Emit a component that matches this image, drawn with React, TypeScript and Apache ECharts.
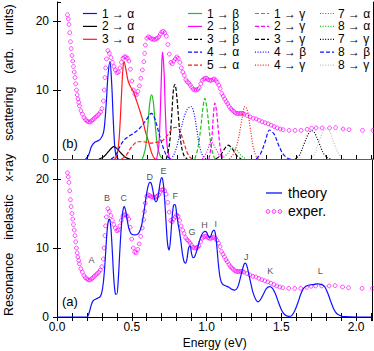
import React, { useEffect, useRef } from "react";
import * as echarts from "echarts";

const FONT = "'Liberation Sans', Arial, Helvetica, sans-serif";

// ---------- data ----------
const expData: number[][] = [
  [0.07,20.9],[0.075,20.3],[0.08,19.5],[0.085,18.3],[0.09,17.0],[0.095,16.0],[0.10,15.0],[0.105,14.2],[0.11,13.4],[0.115,12.6],[0.12,11.8],[0.125,10.9],[0.13,10.0],[0.135,9.3],[0.14,8.7],[0.145,8.2],[0.15,7.7],[0.16,7.0],
  [0.17,6.5],[0.18,6.0],[0.19,5.7],[0.20,5.5],[0.21,5.4],[0.22,5.35],[0.23,5.5],[0.24,5.7],[0.25,5.9],[0.26,6.1],
  [0.27,6.3],[0.28,6.5],[0.29,6.8],[0.30,7.3],[0.31,8.4],[0.315,10.0],[0.32,11.8],[0.325,13.2],[0.33,14.5],[0.34,15.7],[0.35,15.3],[0.36,14.7],
  [0.37,14.0],[0.38,13.4],[0.39,12.9],[0.40,12.5],[0.41,12.6],[0.42,13.2],[0.43,14.0],[0.44,14.6],[0.45,14.8],[0.46,14.8],
  [0.47,14.6],[0.48,14.2],[0.49,13.0],[0.50,11.3],[0.51,10.0],[0.52,9.4],[0.53,9.3],[0.54,9.8],[0.55,10.6],[0.56,11.7],
  [0.57,12.9],[0.58,14.1],[0.585,15.3],[0.59,16.5],[0.60,17.5],[0.61,17.7],[0.62,17.6],[0.63,17.4],[0.64,17.4],[0.65,17.3],[0.66,17.4],
  [0.67,17.5],[0.68,17.7],[0.69,18.1],[0.70,18.4],[0.71,18.5],[0.72,18.3],[0.73,17.8],[0.74,16.6],[0.75,15.2],[0.76,14.0],
  [0.77,13.8],[0.78,14.2],[0.79,14.5],[0.80,14.8],[0.81,14.6],[0.82,14.0],[0.83,13.2],[0.84,12.6],[0.85,12.1],[0.86,11.5],
  [0.87,11.2],[0.88,11.0],[0.89,10.7],[0.90,10.4],[0.91,10.1],[0.92,10.0],[0.93,10.0],[0.94,10.1],[0.95,10.3],[0.96,10.9],
  [0.97,11.4],[0.98,11.6],[0.99,11.7],[1.00,11.7],[1.01,11.5],[1.02,11.4],[1.03,11.4],[1.04,11.5],[1.05,11.6],[1.06,11.4],
  [1.07,11.1],[1.08,10.7],[1.09,10.2],[1.10,9.5],[1.11,9.1],[1.12,8.7],[1.13,8.3],[1.14,8.0],[1.15,7.6],[1.16,7.3],
  [1.17,7.1],[1.18,6.9],[1.19,6.7],[1.20,6.6],[1.21,6.6],[1.22,6.6],[1.23,6.6],[1.24,6.6],[1.25,6.5],
  [1.27,6.3],[1.29,6.1],[1.31,5.9],[1.33,5.8],[1.35,5.6],[1.37,5.4],[1.39,5.25],[1.41,5.1],[1.43,4.9],[1.45,4.7],
  [1.47,4.5],[1.49,4.35],[1.51,4.25],[1.55,4.15],[1.59,4.15],[1.63,4.15],[1.67,4.3],[1.70,4.45],[1.73,4.5],[1.77,4.5],
  [1.82,4.5],[1.86,4.55],[1.91,4.35],[1.95,4.25],[2.04,4.15],[2.11,4.15],
];

const theoryData: number[][] = [
  [0,0],[0.2,0],[0.21,0.3],[0.22,1.0],[0.23,1.8],[0.24,2.3],[0.25,2.5],[0.27,2.7],[0.29,3.0],[0.30,3.6],
  [0.31,5.0],[0.32,7.5],[0.33,11.0],[0.34,13.5],[0.35,14.2],[0.36,13.0],[0.37,9.5],[0.38,5.5],[0.39,3.4],[0.40,3.3],
  [0.41,5.5],[0.42,9.5],[0.43,13.0],[0.44,15.3],[0.45,16.0],[0.46,15.3],[0.47,14.0],[0.48,12.9],[0.49,12.3],[0.50,12.0],
  [0.52,11.9],[0.54,12.0],[0.55,12.3],[0.56,12.8],[0.57,13.7],[0.58,15.0],[0.59,16.5],[0.60,18.0],[0.61,19.0],[0.62,19.5],
  [0.63,19.4],[0.64,18.5],[0.65,17.3],[0.66,16.7],[0.67,16.9],[0.68,18.0],[0.69,19.5],[0.70,20.2],[0.71,19.5],[0.72,17.0],
  [0.73,13.5],[0.74,10.5],[0.75,9.7],[0.76,11.5],[0.77,14.5],[0.78,16.2],[0.79,16.3],[0.80,15.0],[0.81,13.5],[0.82,12.3],
  [0.83,10.7],[0.84,9.0],[0.85,8.0],[0.86,7.8],[0.87,8.5],[0.88,10.0],[0.89,10.3],[0.90,9.2],[0.91,8.6],[0.92,8.7],
  [0.93,9.3],[0.94,10.0],[0.95,10.8],[0.96,11.5],[0.97,12.0],[0.98,12.3],[0.99,12.4],[1.00,12.3],[1.01,11.8],[1.02,11.5],
  [1.03,11.8],[1.04,12.4],[1.05,12.6],[1.06,12.0],[1.07,10.0],[1.08,7.5],[1.09,5.8],[1.10,5.0],[1.11,4.7],[1.13,4.5],
  [1.15,4.3],[1.17,4.0],[1.19,3.9],[1.21,4.4],[1.23,6.0],[1.25,7.6],[1.26,7.8],[1.27,7.4],[1.29,5.5],[1.31,3.6],
  [1.33,2.5],[1.345,2.2],[1.36,2.5],[1.38,3.3],[1.40,4.1],[1.42,4.4],[1.44,4.2],[1.46,3.4],[1.48,2.2],[1.50,1.1],
  [1.52,0.4],[1.55,0.1],[1.57,0.2],[1.59,0.9],[1.61,2.0],[1.63,3.3],[1.65,4.2],[1.68,4.6],[1.71,4.7],[1.74,4.8],
  [1.77,4.7],[1.79,4.4],[1.81,3.5],[1.83,2.3],[1.85,1.2],[1.87,0.5],[1.90,0.15],[1.93,0.05],[2.0,0],[2.11,0],
];

// component transitions (top panel)
const c1a = [[0.19,0],[0.21,0.5],[0.23,1.8],[0.25,2.4],[0.27,2.6],[0.29,2.9],[0.31,3.8],[0.32,5.5],[0.33,8.5],[0.34,12.0],[0.353,14.1],[0.365,11.0],[0.375,6.0],[0.385,2.0],[0.395,0.4],[0.41,0]];
const c2a = [[0.28,0],[0.31,0.3],[0.34,1.0],[0.365,1.6],[0.38,1.8],[0.40,1.5],[0.43,0.8],[0.46,0.2],[0.49,0]];
const c3a = [[0.385,0],[0.40,0.5],[0.415,3.0],[0.43,9.0],[0.44,13.0],[0.448,14.1],[0.46,13.0],[0.475,11.3],[0.49,10.5],[0.51,9.8],[0.53,8.5],[0.55,7.2],[0.575,5.4],[0.59,4.0],[0.61,2.6],[0.63,1.0],[0.65,0.1],[0.67,0]];
const c1b = [[0.57,0],[0.59,1.5],[0.605,4.5],[0.62,8.2],[0.631,9.3],[0.643,8.3],[0.655,5.2],[0.67,2.0],[0.69,0.4],[0.71,0]];
const c2b = [[0.665,0],[0.68,2.0],[0.69,7.0],[0.70,14.0],[0.705,15.5],[0.715,12.5],[0.725,6.0],[0.735,2.0],[0.75,0.2],[0.76,0]];
const c3b = [[0.73,0],[0.75,2.0],[0.765,6.0],[0.778,10.2],[0.787,10.8],[0.80,9.0],[0.815,5.0],[0.83,2.0],[0.85,0.4],[0.87,0]];
const c4a = [[0.36,0],[0.39,0.5],[0.42,1.8],[0.45,2.8],[0.48,3.3],[0.51,3.7],[0.54,4.2],[0.57,4.9],[0.60,5.8],[0.63,6.6],[0.65,6.0],[0.67,4.6],[0.69,3.0],[0.71,1.6],[0.73,0.6],[0.75,0.1],[0.77,0]];
const c5a = [[0.43,0],[0.46,0.5],[0.50,1.8],[0.54,2.5],[0.58,2.5],[0.62,2.3],[0.66,2.4],[0.70,2.6],[0.74,3.5],[0.77,4.4],[0.795,4.6],[0.82,4.1],[0.845,2.5],[0.87,0.9],[0.89,0.2],[0.91,0]];
const c1g = [[0.92,0],[0.94,1.5],[0.96,4.5],[0.975,7.5],[0.987,8.8],[1.00,7.5],[1.015,4.5],[1.03,1.8],[1.05,0.2],[1.06,0]];
const c2g = [[1.015,0],[1.03,2.0],[1.045,6.5],[1.054,8.1],[1.065,7.0],[1.08,3.5],[1.095,1.0],[1.11,0]];
const c3g = [[1.06,0],[1.09,0.5],[1.12,1.5],[1.143,2.0],[1.17,1.5],[1.20,0.5],[1.23,0]];
const c4b = [[0.76,0],[0.78,0.6],[0.80,1.8],[0.82,3.6],[0.845,5.8],[0.87,7.2],[0.895,7.6],[0.915,6.6],[0.935,4.0],[0.955,1.6],[0.975,0.4],[0.995,0]];
const c4g = [[1.15,0],[1.18,0.8],[1.21,2.8],[1.235,5.8],[1.255,7.6],[1.27,7.2],[1.29,4.5],[1.31,1.8],[1.33,0.4],[1.35,0]];
const c7a = [[0.97,0],[1.0,1.0],[1.03,2.5],[1.06,1.5],[1.09,0.3],[1.11,0]];
const c8a = [[1.10,0],[1.14,0.8],[1.17,1.6],[1.20,1.3],[1.23,0.5],[1.26,0]];
const c7g = [[1.59,0],[1.62,0.6],[1.65,2.2],[1.68,3.7],[1.70,4.1],[1.72,3.8],[1.75,2.3],[1.78,0.8],[1.81,0.1],[1.83,0]];
const c8b = [[1.33,0],[1.36,0.8],[1.39,2.5],[1.42,4.2],[1.45,3.6],[1.48,2.0],[1.51,0.7],[1.54,0.1],[1.56,0]];
const c8g = [[1.69,0],[1.72,0.8],[1.75,2.6],[1.78,4.1],[1.80,4.4],[1.82,4.0],[1.85,2.3],[1.88,0.8],[1.91,0.1],[1.93,0]];

const peakLabels: [number, number, string][] = [
  [0.23,8.2,"A"],[0.334,17.2,"B"],[0.446,17.2,"C"],[0.62,20.3,"D"],[0.713,21.1,"E"],[0.791,17.5,"F"],
  [0.903,12.3,"G"],[0.987,13.3,"H"],[1.061,13.5,"I"],[1.266,8.7,"J"],[1.426,6.6,"K"],[1.761,6.6,"L"],
];

const yTicks = [0, 10, 20];

// ---------- styles ----------
const BLUE = "#1010ff", BLACK = "#000000", RED = "#ff1a1a", GREEN = "#1fbf1f", MAG = "#ff00ff", GREY = "#bdbdbd";
const DASH = [4, 2];
const DOT = [1, 1.6];

type Comp = { name: string; data: number[][]; color: string; dash: any };
const comps: Comp[] = [
  { name: "1 → α", data: c1a, color: BLUE, dash: "solid" },
  { name: "2 → α", data: c2a, color: BLACK, dash: "solid" },
  { name: "3 → α", data: c3a, color: RED, dash: "solid" },
  { name: "1 → β", data: c1b, color: GREEN, dash: "solid" },
  { name: "2 → β", data: c2b, color: MAG, dash: "solid" },
  { name: "3 → β", data: c3b, color: BLACK, dash: DASH },
  { name: "4 → α", data: c4a, color: BLUE, dash: DASH },
  { name: "5 → α", data: c5a, color: RED, dash: DASH },
  { name: "1 → γ", data: c1g, color: GREEN, dash: DASH },
  { name: "2 → γ", data: c2g, color: MAG, dash: DASH },
  { name: "3 → γ", data: c3g, color: BLACK, dash: DASH },
  { name: "4 → β", data: c4b, color: BLUE, dash: DOT },
  { name: "4 → γ", data: c4g, color: RED, dash: DOT },
  { name: "7 → α", data: c7a, color: MAG, dash: DOT },
  { name: "8 → α", data: c8a, color: GREEN, dash: DOT },
  { name: "7 → γ", data: c7g, color: BLACK, dash: DOT },
  { name: "8 → β", data: c8b, color: BLUE, dash: DASH },
  { name: "8 → γ", data: c8g, color: GREY, dash: DOT },
];

const legendCols = [
  { lx: 83, tx: 102, items: [0, 1, 2] },
  { lx: 188, tx: 207, items: [3, 4, 5, 6, 7] },
  { lx: 255, tx: 274, items: [8, 9, 10, 11, 12] },
  { lx: 320, tx: 338, items: [13, 14, 15, 16, 17] },
];
const ROW0 = 13.5, ROWH = 12.9;

function txt(x: number, y: number, text: string, size: number, extra: any = {}) {
  return {
    type: "text", x, y, silent: true, ...extra,
    style: {
      text, fill: "#000", font: `${size}px ${FONT}`,
      align: extra.align || "left", verticalAlign: "middle",
      textAlign: extra.align || "left", textVerticalAlign: "middle",
    },
  };
}

function buildOption() {
  const X_MAX = 2.11;
  const graphics: any[] = [];
  legendCols.forEach((col) => {
    col.items.forEach((ci, r) => {
      const c = comps[ci];
      const y = ROW0 + r * ROWH;
      graphics.push({
        type: "line", silent: true,
        shape: { x1: col.lx, y1: y, x2: col.lx + 14, y2: y },
        style: { stroke: c.color, lineWidth: 1.2, lineDash: c.dash === "solid" ? null : c.dash },
      });
      graphics.push(txt(col.tx, y, c.name, 12));
    });
  });
  graphics.push({ type: "line", silent: true, shape: { x1: 266, y1: 193, x2: 282, y2: 193 }, style: { stroke: BLUE, lineWidth: 1.3 } });
  graphics.push(txt(288, 193, "theory", 14));
  [268, 274, 280].forEach((cx) =>
    graphics.push({ type: "circle", silent: true, shape: { cx, cy: 211.5, r: 1.8 }, style: { fill: "none", stroke: MAG, lineWidth: 0.9 } })
  );
  graphics.push(txt(288, 211, "exper.", 14));
  graphics.push(txt(62, 143, "(b)", 13));
  graphics.push(txt(62, 301, "(a)", 13));
  const words: [string, number][] = [
    ["units)", 19.6], ["(arb.", 60.8], ["scattering", 113.7], ["x-ray", 167.7], ["inelastic", 217.2], ["Resonance", 284.4],
  ];
  words.forEach(([w, cy]) => graphics.push(txt(9, cy, w, 12.5, { rotation: Math.PI / 2, align: "center" })));

  const axLine = (color = "#000", w = 1) => ({ show: true, lineStyle: { color, width: w } });
  const noTick = { show: false };
  const noLabel = { show: false };
  const xBase = { type: "value", min: 0, max: X_MAX, interval: 0.1, splitLine: { show: false } };
  const yBase = (max: number) => ({ type: "value", min: 0, max, interval: 10, splitLine: { show: false } });
  const yLabel = {
    show: true, fontSize: 12, fontFamily: FONT, color: "#000", margin: 8, showMaxLabel: false,
    formatter: (v: number) => (yTicks.includes(v) ? String(v) : ""),
  };

  const xAxis = [
    { ...xBase, gridIndex: 0, position: "bottom", axisLine: axLine("#8b4a42", 1.2), axisTick: { show: true, inside: true, length: 4, lineStyle: { color: "#000" } }, axisLabel: noLabel, z: 5 },
    { ...xBase, gridIndex: 0, position: "top", axisLine: axLine(), axisTick: noTick, axisLabel: noLabel },
    {
      ...xBase, gridIndex: 1, position: "bottom", axisLine: axLine(), axisTick: { show: true, inside: true, length: 4, lineStyle: { color: "#000" } },
      axisLabel: {
        show: true, fontSize: 12, fontFamily: FONT, color: "#000", margin: 4, showMaxLabel: false,
        formatter: (v: number) => (Math.abs(v * 2 - Math.round(v * 2)) < 1e-6 ? v.toFixed(1) : ""),
      },
      name: "Energy (eV)", nameLocation: "middle", nameGap: 20,
      nameTextStyle: { fontSize: 12, fontFamily: FONT, color: "#000" },
    },
    { ...xBase, gridIndex: 1, position: "top", axisLine: { show: false }, axisTick: { show: true, inside: true, length: 4, lineStyle: { color: "#000" } }, axisLabel: noLabel },
  ];
  const yAxis = [
    { ...yBase(22.75), gridIndex: 0, position: "left", axisLine: axLine(), axisTick: { show: true, length: 4, lineStyle: { color: "#000" } }, axisLabel: yLabel },
    { ...yBase(22.75), gridIndex: 0, position: "left", axisLine: { show: false }, axisTick: { show: true, inside: true, length: 4, lineStyle: { color: "#000" } }, axisLabel: noLabel },
    { ...yBase(22.75), gridIndex: 0, position: "right", axisLine: axLine(), axisTick: noTick, axisLabel: noLabel },
    { ...yBase(22.9), gridIndex: 1, position: "left", axisLine: axLine(), axisTick: { show: true, length: 4, lineStyle: { color: "#000" } }, axisLabel: yLabel },
    { ...yBase(22.9), gridIndex: 1, position: "left", axisLine: { show: false }, axisTick: { show: true, inside: true, length: 4, lineStyle: { color: "#000" } }, axisLabel: noLabel },
    { ...yBase(22.9), gridIndex: 1, position: "right", axisLine: axLine(), axisTick: noTick, axisLabel: noLabel },
  ];

  const expStyle = {
    type: "scatter", symbol: "circle", symbolSize: 3.8, silent: true,
    itemStyle: { color: "transparent", borderColor: MAG, borderWidth: 0.9 },
  };

  const series: any[] = comps.map((c) => ({
    type: "line", name: c.name, xAxisIndex: 0, yAxisIndex: 0, data: c.data, smooth: 0.35,
    showSymbol: false, symbol: "none", silent: true, clip: true,
    lineStyle: { color: c.color, width: 1.2, type: c.dash },
  }));
  series.push({ ...expStyle, name: "exp-top", xAxisIndex: 0, yAxisIndex: 0, data: expData });
  series.push({
    type: "line", name: "theory", xAxisIndex: 2, yAxisIndex: 3, data: theoryData, smooth: 0.3,
    showSymbol: false, symbol: "none", silent: true, clip: true, z: 3,
    lineStyle: { color: BLUE, width: 1.2 },
  });
  series.push({ ...expStyle, name: "exper.", xAxisIndex: 2, yAxisIndex: 3, data: expData });
  series.push({
    type: "scatter", name: "peaks", xAxisIndex: 2, yAxisIndex: 3, silent: true, symbolSize: 1,
    itemStyle: { color: "transparent" },
    data: peakLabels.map(([x, y, t]) => ({ value: [x, y], name: t })),
    label: { show: true, position: "inside", formatter: "{b}", fontSize: 9, fontFamily: FONT, color: "#222" },
    z: 6,
  });

  return {
    animation: false,
    backgroundColor: "#fff",
    grid: [
      { left: 57, top: 2, width: 316, height: 157 },
      { left: 57, top: 159, width: 316, height: 158 },
    ],
    xAxis, yAxis, series, graphic: graphics,
  };
}

export default function App() {
  const ref = useRef<HTMLDivElement>(null);
  useEffect(() => {
    if (!ref.current) return;
    const chart = echarts.init(ref.current, null, { renderer: "svg" });
    chart.setOption(buildOption() as any);
    return () => chart.dispose();
  }, []);
  return <div ref={ref} style={{ position: "fixed", left: 0, top: 0, width: 374, height: 351 }} />;
}
